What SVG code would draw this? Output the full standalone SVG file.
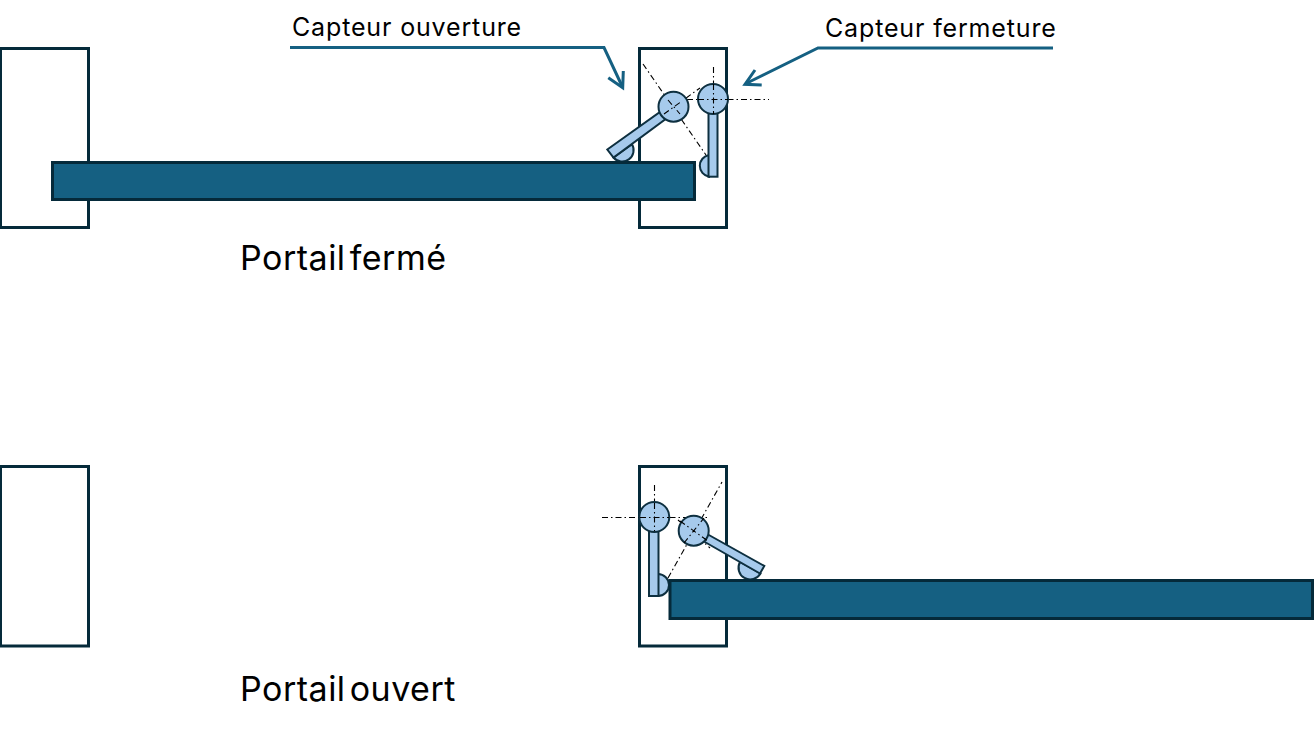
<svg xmlns="http://www.w3.org/2000/svg" width="1314" height="735" viewBox="0 0 1314 735">
<style>
.post{fill:#fff;stroke:#052a3a;stroke-width:3}
.leaf{fill:#156082;stroke:#052a3a;stroke-width:3}
.part{fill:#a6caec;stroke:#0e3040;stroke-width:2}
.axis{fill:none;stroke:#000;stroke-width:1.100;stroke-dasharray:6 3 1.500 3}
.lead{fill:none;stroke:#156082;stroke-width:3}
.t{font-family:"Inter","Liberation Sans",sans-serif;fill:#000}
.s{font-size:25px;letter-spacing:.85px}
.b{font-size:34px;word-spacing:-6px;letter-spacing:.5px}
</style>
<g id="closed-left-post"><rect class="post" x="0.500" y="48.500" width="88" height="179"/></g>
<g id="closed-right-post"><rect class="post" x="639.500" y="48.500" width="87" height="179"/></g>
<g id="closed-axes">
<path class="axis" d="M687 99.500H769M713.500 67V120M643 64L706 155M664 114L700 88"/>
</g>
<g id="closed-open-sensor">
<path class="part" d="M613.500 157.500A11.400 11.400 0 0 0 632 144.300Z"/>
<path class="part" d="M607.300 149.500L660 112L665 119.500L613.500 157.500Z"/>
<circle class="part" cx="673.500" cy="106.700" r="15"/>
</g>
<g id="closed-close-sensor">
<path class="part" d="M709 155A11 11 0 0 0 709 176.700Z"/>
<rect class="part" x="708.500" y="110" width="9" height="66.700"/>
<circle class="part" cx="713" cy="99" r="15"/>
</g>
<g id="closed-axes-over">
<path class="axis" d="M668 100L680 114M664 114L682 101M698 99.500H728M713.500 84V114"/>
</g>
<g id="closed-leaf"><rect class="leaf" x="52.500" y="162.500" width="642" height="37"/></g>
<g id="open-left-post"><rect class="post" x="0.500" y="466.500" width="88" height="179.500"/></g>
<g id="open-right-post"><rect class="post" x="639.500" y="466.500" width="87" height="179.500"/></g>
<g id="open-axes">
<path class="axis" d="M602 517.500H710M654.500 485V545M668 578L722 482M678 520L710 548"/>
</g>
<g id="open-close-sensor">
<path class="part" d="M658 574A11 11 0 0 1 658 596Z"/>
<rect class="part" x="649" y="528" width="9.500" height="68"/>
<circle class="part" cx="654.300" cy="517" r="15"/>
</g>
<g id="open-open-sensor">
<path class="part" d="M740 562A11.700 11.700 0 0 0 760.500 573.500Z"/>
<path class="part" d="M708 534.500L764.300 566L760 573.500L704 541.500Z"/>
<circle class="part" cx="693.700" cy="530.700" r="15"/>
</g>
<g id="open-axes-over">
<path class="axis" d="M680 521L708 541M684 543L704 518M640 517.500H669M654.500 503V531"/>
</g>
<g id="open-leaf"><rect class="leaf" x="670" y="580.500" width="642.500" height="38"/></g>
<g id="connectors">
<path class="lead" d="M290 47.500H604L622 86"/>
<path class="lead" d="M608.300 77.700L622.700 87.700L623.300 71"/>
<path class="lead" d="M1053 48H818L746 83.500"/>
<path class="lead" d="M755 70L745 84.300L761.700 85"/>
</g>
<g id="labels">
<text class="t s" x="292" y="35.500">Capteur ouverture</text>
<text class="t s" x="825" y="36.500">Capteur fermeture</text>
<text class="t b" x="240" y="270">Portail fermé</text>
<text class="t b" x="240" y="701">Portail ouvert</text>
</g>
</svg>
